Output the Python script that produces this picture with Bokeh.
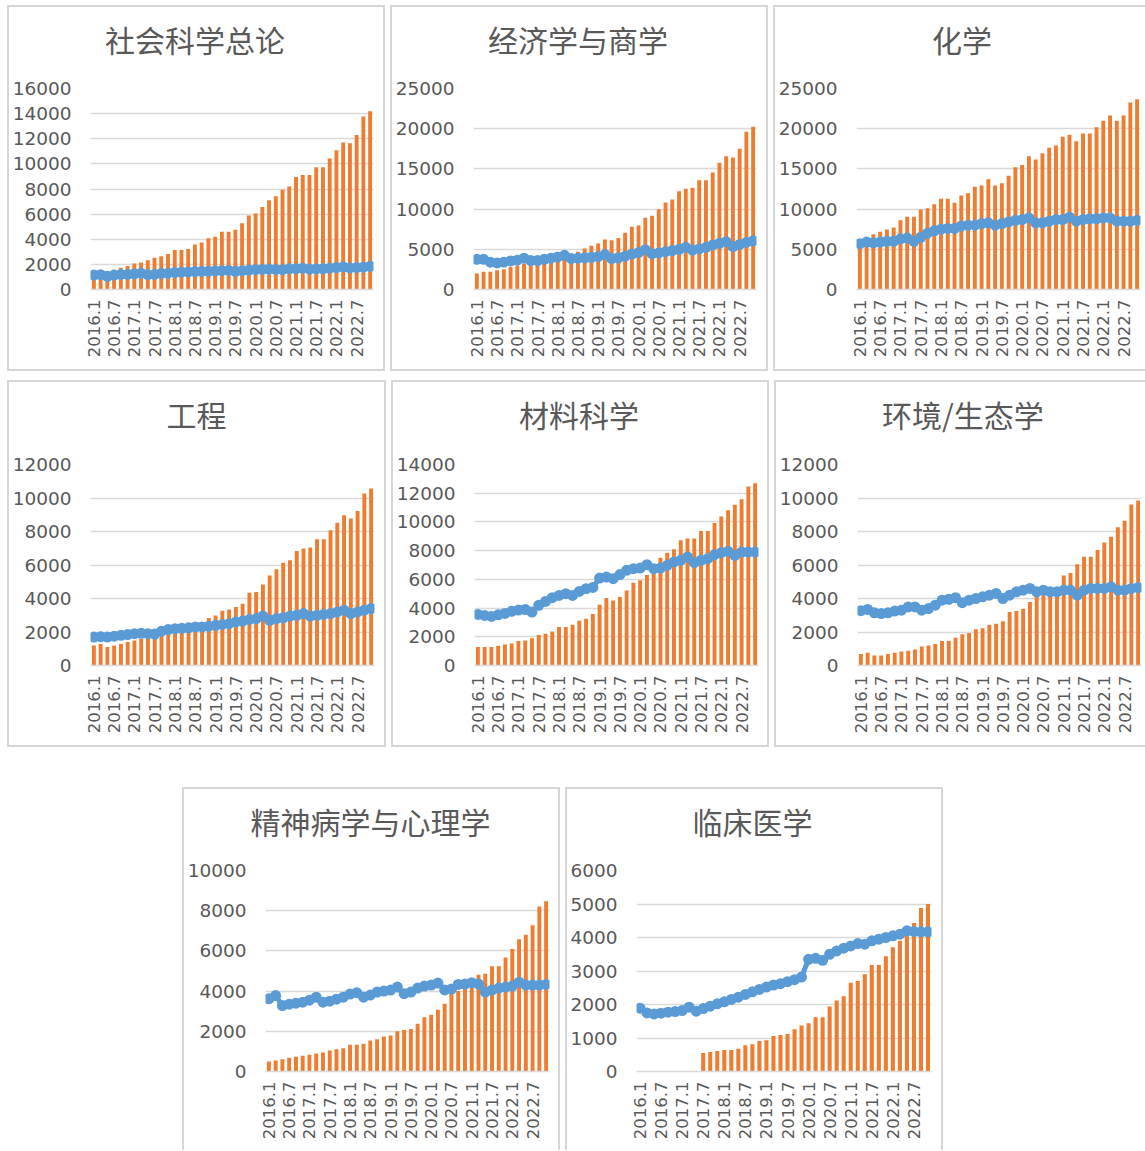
from bokeh.plotting import figure
from bokeh.layouts import column, row, Spacer
from bokeh.models import Range1d, FixedTicker, Div
from bokeh.embed import file_html
from bokeh.resources import INLINE

months = ["2016.1", "2016.3", "2016.5", "2016.7", "2016.9", "2016.11",
          "2017.1", "2017.3", "2017.5", "2017.7", "2017.9", "2017.11",
          "2018.1", "2018.3", "2018.5", "2018.7", "2018.9", "2018.11",
          "2019.1", "2019.3", "2019.5", "2019.7", "2019.9", "2019.11",
          "2020.1", "2020.3", "2020.5", "2020.7", "2020.9", "2020.11",
          "2021.1", "2021.3", "2021.5", "2021.7", "2021.9", "2021.11",
          "2022.1", "2022.3", "2022.5", "2022.7", "2022.9", "2022.11"]
tick_labels = ["2016.1", "2016.7", "2017.1", "2017.7", "2018.1", "2018.7", "2019.1",
               "2019.7", "2020.1", "2020.7", "2021.1", "2021.7", "2022.1", "2022.7"]

ssci_bars = [1300, 1350, 1450, 1580, 1740, 1875, 2060, 2140, 2320, 2535, 2640, 2825, 3140, 3140,
             3220, 3590, 3750, 4070, 4200, 4590, 4590, 4750, 5280, 5890, 6050, 6570, 7100, 7420,
             7950, 8190, 8950, 9110, 9110, 9740, 9740, 10430, 11090, 11700, 11640, 12300, 13780, 14180]
ssci_line = [1150, 1180, 1050, 1150, 1200, 1200, 1250, 1300, 1180, 1200, 1280, 1300, 1350, 1380,
             1400, 1420, 1450, 1450, 1480, 1500, 1520, 1450, 1500, 1550, 1580, 1600, 1620, 1600,
             1580, 1650, 1650, 1700, 1620, 1650, 1650, 1700, 1750, 1800, 1720, 1750, 1780, 1850]

econ_bars = [1990, 2200, 2200, 2400, 2530, 2800, 3000, 3200, 3100, 3300, 3500, 3700, 3900, 4100,
             4400, 4700, 5100, 5430, 5720, 6220, 6140, 6390, 7050, 7800, 7960, 8910, 9160, 9990,
             10820, 11190, 12230, 12520, 12650, 13600, 13600, 14550, 15750, 16580, 16420, 17500, 19610, 20230]
econ_line = [3750, 3750, 3400, 3300, 3400, 3550, 3650, 3900, 3600, 3600, 3750, 3900, 4050, 4250,
             3850, 3900, 3950, 4000, 4100, 4350, 3850, 3950, 4150, 4400, 4600, 4950, 4450, 4550,
             4700, 4850, 5000, 5250, 4900, 5050, 5250, 5550, 5750, 5950, 5350, 5600, 5850, 6050]

chem_bars = [5700, 6200, 6880, 7170, 7460, 7710, 8620, 9040, 9040, 9950, 10120, 10610, 11280, 11280,
             10780, 11690, 11980, 12770, 12940, 13720, 12940, 13230, 14140, 15220, 15470, 16580, 16170, 16960,
             17620, 17910, 18990, 19240, 18450, 19400, 19400, 20190, 20980, 21640, 20980, 21640, 23260, 23670]
chem_line = [5700, 5900, 5800, 5900, 6000, 6000, 6300, 6400, 6000, 6500, 7000, 7300, 7500, 7600,
             7600, 7900, 8000, 8000, 8200, 8300, 8000, 8200, 8400, 8600, 8700, 8900, 8300, 8300,
             8500, 8700, 8700, 9000, 8500, 8700, 8800, 8800, 8900, 8900, 8500, 8500, 8500, 8600]

eng_bars = [1200, 1280, 1100, 1200, 1280, 1400, 1500, 1600, 1650, 1700, 1900, 1950, 2000, 2050,
            2100, 2150, 2300, 2830, 2990, 3270, 3350, 3490, 3690, 4350, 4390, 4830, 5380, 5740,
            6140, 6280, 6840, 6980, 7040, 7540, 7540, 8080, 8520, 8970, 8770, 9230, 10270, 10570]
eng_line = [1700, 1720, 1700, 1750, 1800, 1850, 1900, 1920, 1900, 1880, 2050, 2150, 2200, 2220,
            2250, 2300, 2300, 2350, 2400, 2450, 2500, 2600, 2650, 2750, 2800, 2950, 2700, 2800,
            2850, 2950, 3000, 3100, 2950, 3000, 3050, 3100, 3200, 3300, 3100, 3200, 3300, 3400]

mat_bars = [1280, 1280, 1280, 1370, 1465, 1535, 1700, 1745, 1900, 2120, 2210, 2370, 2675, 2675,
            2840, 3115, 3255, 3580, 4230, 4700, 4535, 4770, 5230, 5770, 5930, 6300, 6500, 7510,
            7860, 8090, 8720, 8840, 8840, 9370, 9370, 9930, 10370, 10810, 11190, 11580, 12470, 12700]
mat_line = [3560, 3490, 3420, 3530, 3630, 3770, 3860, 3900, 3720, 4190, 4460, 4720, 4880, 5000,
            4880, 5160, 5350, 5440, 6090, 6160, 6050, 6330, 6630, 6740, 6790, 7020, 6740, 6790,
            6980, 7210, 7330, 7560, 7160, 7330, 7440, 7720, 7860, 7950, 7670, 7900, 7900, 7900]

env_bars = [680, 760, 600, 600, 680, 760, 840, 880, 960, 1140, 1200, 1280, 1460, 1460,
            1660, 1860, 1940, 2160, 2220, 2440, 2500, 2640, 3190, 3250, 3390, 3790, 4100, 4200,
            4100, 4300, 5380, 5520, 6040, 6500, 6500, 6900, 7340, 7680, 8260, 8640, 9610, 9850]
env_line = [3270, 3350, 3150, 3100, 3150, 3250, 3300, 3500, 3500, 3300, 3400, 3600, 3900, 3950,
            4050, 3750, 3900, 4000, 4100, 4200, 4300, 4000, 4200, 4400, 4500, 4600, 4400, 4500,
            4400, 4400, 4500, 4500, 4200, 4500, 4600, 4600, 4600, 4700, 4500, 4500, 4600, 4650]

psy_bars = [500, 550, 610, 680, 730, 780, 830, 900, 950, 1040, 1110, 1160, 1330, 1330,
            1380, 1540, 1610, 1740, 1790, 2000, 2070, 2120, 2370, 2700, 2820, 3070, 3370, 3900,
            4000, 4200, 4500, 4810, 4860, 5240, 5240, 5670, 6090, 6580, 6800, 7280, 8210, 8470]
psy_line = [3620, 3780, 3280, 3350, 3400, 3450, 3550, 3700, 3450, 3500, 3600, 3700, 3850, 3920,
            3700, 3800, 3950, 4000, 4050, 4200, 3870, 3950, 4150, 4250, 4300, 4400, 4060, 4100,
            4330, 4350, 4420, 4350, 3950, 4050, 4150, 4200, 4250, 4440, 4300, 4300, 4300, 4330]

clin_bars = [None, None, None, None, None, None, None, None, None, 550, 580, 610, 640, 640,
             680, 780, 810, 910, 930, 1060, 1090, 1120, 1260, 1370, 1440, 1620, 1620, 1940,
             2120, 2250, 2650, 2700, 2900, 3180, 3180, 3440, 3710, 3900, 4100, 4430, 4880, 5000]
clin_line = [1890, 1750, 1720, 1740, 1770, 1790, 1820, 1920, 1800, 1880, 1950, 2020, 2080, 2150,
             2220, 2300, 2380, 2450, 2520, 2580, 2620, 2680, 2740, 2820, 3350, 3380, 3320, 3500,
             3600, 3680, 3750, 3820, 3800, 3900, 3950, 4000, 4050, 4100, 4200, 4180, 4170, 4170]

BAR_COLOR = "#ed7d31"
LINE_COLOR = "#5b9bd5"
GRID_COLOR = "#d9d9d9"
BOX_COLOR = "#d6d6d6"
TEXT_COLOR = "#595959"
TITLE_H = 70


def panel(title, bars, line, ymax, ystep, w, h, bl, br, bt, bb,
          tcenter=189, open_right=False, open_bottom=False):
    n = len(months)
    sides = ["inset 2px 0 0 0 " + BOX_COLOR, "inset 0 2px 0 0 " + BOX_COLOR]
    if not open_right:
        sides.append("inset -2px 0 0 0 " + BOX_COLOR)
    if not open_bottom:
        sides.append("inset 0 -2px 0 0 " + BOX_COLOR)

    head = Div(text=title, width=int(round(2 * tcenter)), height=TITLE_H,
               styles={"font-family": "'Noto Sans CJK SC'", "font-size": "30px",
                       "color": TEXT_COLOR, "text-align": "center", "line-height": "68px",
                       "white-space": "nowrap", "margin": "0", "padding": "0"})

    p = figure(width=w, height=h - TITLE_H, output_backend="svg", toolbar_location=None,
               x_range=Range1d(-0.5, n - 0.5), y_range=Range1d(0, ymax),
               min_border_left=bl, min_border_right=br,
               min_border_top=bt - TITLE_H, min_border_bottom=bb)
    p.outline_line_color = None
    p.background_fill_color = None
    p.border_fill_color = None

    xs = [i for i, v in enumerate(bars) if v is not None]
    tops = [v for v in bars if v is not None]
    p.vbar(x=xs, top=tops, width=0.58, color=BAR_COLOR, line_color=None)
    idx = list(range(len(line)))
    p.line(idx, line, line_color=LINE_COLOR, line_width=5)
    p.scatter(idx, line, marker="circle", size=11, fill_color=LINE_COLOR, line_color=None)

    ticks = [months.index(t) for t in tick_labels]
    p.xaxis.ticker = FixedTicker(ticks=ticks)
    p.xaxis.major_label_overrides = {i: months[i] for i in ticks}
    p.xaxis.major_label_orientation = 3.14159265 / 2
    p.xaxis.major_label_text_font = "DejaVu Sans"
    p.xaxis.major_label_text_font_size = "16.5px"
    p.xaxis.major_label_text_color = TEXT_COLOR
    p.xaxis.major_tick_line_color = None
    p.xaxis.minor_tick_line_color = None
    p.xaxis.major_tick_out = 0
    p.xaxis.major_tick_in = 0
    p.xaxis.major_label_standoff = 10
    p.xaxis.axis_line_color = GRID_COLOR
    p.xaxis.axis_line_width = 1.5

    p.yaxis.ticker = FixedTicker(ticks=list(range(0, ymax + 1, ystep)))
    p.yaxis.major_label_text_font = "DejaVu Sans"
    p.yaxis.major_label_text_font_size = "18.5px"
    p.yaxis.major_label_text_color = TEXT_COLOR
    p.yaxis.major_tick_line_color = None
    p.yaxis.minor_tick_line_color = None
    p.yaxis.major_tick_out = 0
    p.yaxis.major_tick_in = 0
    p.yaxis.major_label_standoff = 19
    p.yaxis.axis_line_color = None

    p.xgrid.grid_line_color = None
    p.ygrid.grid_line_color = GRID_COLOR
    p.ygrid.grid_line_width = 1.5
    p.ygrid.ticker = FixedTicker(ticks=list(range(0, ymax + 1, ystep)))

    return column(head, p, spacing=0, styles={"box-shadow": ", ".join(sides)})


c1 = panel("社会科学总论", ssci_bars, ssci_line, 16000, 2000, 378, 366, 83, 12, 83, 82, tcenter=188)
c2 = panel("经济学与商学", econ_bars, econ_line, 25000, 5000, 378, 366, 83, 12, 83, 82, tcenter=188)
c3 = panel("化学", chem_bars, chem_line, 25000, 5000, 372, 366, 83, 5, 83, 82, tcenter=189, open_right=True)
c4 = panel("工程", eng_bars, eng_line, 12000, 2000, 378, 367, 83, 11, 84, 82, tcenter=189.5)
c5 = panel("材料科学", mat_bars, mat_line, 14000, 2000, 378, 367, 83, 11, 84, 82, tcenter=188)
c6 = panel("环境/生态学", env_bars, env_line, 12000, 2000, 372, 367, 83, 5, 84, 82, tcenter=189, open_right=True)
c7 = panel("精神病学与心理学", psy_bars, psy_line, 10000, 2000, 378, 363, 83, 11, 83, 79,
           tcenter=188.5, open_bottom=True)
c8 = panel("临床医学", clin_bars, clin_line, 6000, 1000, 378, 363, 71, 12, 83, 79,
           tcenter=187.5, open_bottom=True)

r1 = row(Spacer(width=2, height=10), c1, c2, c3, spacing=5)
r2 = row(Spacer(width=2, height=10), c4, c5, c6, spacing=5)
r3 = row(Spacer(width=177, height=10), c7, c8, spacing=5)
layout = column(Spacer(width=10, height=5), r1, Spacer(width=10, height=9), r2,
                Spacer(width=10, height=40), r3)

open("out.html", "w").write(file_html(layout, INLINE))
